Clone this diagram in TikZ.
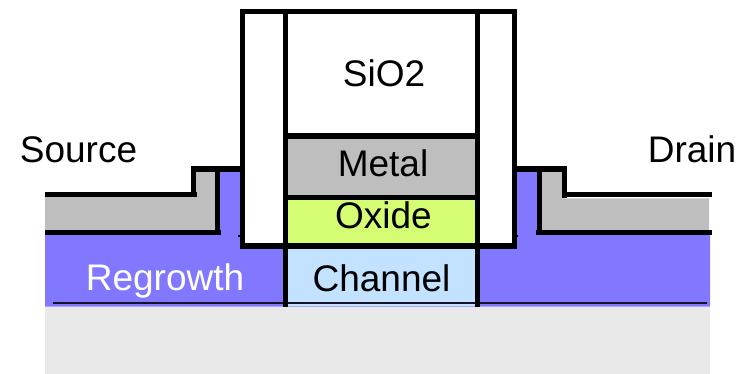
\documentclass[tikz,border=0pt]{standalone}
\usepackage{fontspec}
\setmainfont{Liberation Sans}
\definecolor{sub}{HTML}{E9E9E9}
\definecolor{regrow}{HTML}{8278FF}
\definecolor{metalc}{HTML}{BEBEBE}
\definecolor{oxidec}{HTML}{D4FD74}
\definecolor{chanc}{HTML}{C2E2FF}
\tikzset{
  wall/.style={line width=5.3pt,line cap=butt,line join=miter,draw=black},
  thin wall/.style={line width=2.4pt,draw=black!85!regrow},
  label text/.style={anchor=base,inner sep=0pt,font=\fontsize{37}{37}\selectfont}
}
\begin{document}
\begin{tikzpicture}[x=1pt,y=-1pt]
\useasboundingbox (0,0) rectangle (746,374);
% substrate and regrowth
\fill[sub] (45,306.7) rectangle (710,374);
\fill[regrow] (45,232) -- (217,232) -- (217,169) -- (242,169) -- (242,246) -- (514,246) -- (514,169) -- (540,169) -- (540,232) -- (710,232) -- (710,306.7) -- (45,306.7) -- cycle;
% source and drain metal
\fill[metalc] (45,197) -- (194,197) -- (194,171) -- (216,171) -- (216,230) -- (45,230) -- cycle;
\fill[metalc] (541,171) -- (563,171) -- (563,198.3) -- (709,198.3) -- (709,230) -- (541,230) -- cycle;
% gate stack fills
\fill[white] (242,12) rectangle (514,246);
\fill[metalc] (286,137) rectangle (477,197);
\fill[oxidec] (286,197) rectangle (477,246);
\fill[chanc] (286,246) rectangle (477,306);
% thin lines at the foot of the regrowth
\draw[thin wall] (53.3,303) -- (285,303);
\draw[thin wall] (478,303) -- (706.7,303);
\draw[thin wall] (286,303) -- (477,303);
% source contact
\draw[wall] (45,194.6) -- (197,194.6);
\draw[wall] (193.5,197) -- (193.5,169) -- (242,169);
\draw[wall] (217.3,169) -- (217.3,232);
\draw[wall] (45,232.2) -- (221.3,232.2);
% drain contact
\draw[wall] (712.3,194.6) -- (561.7,194.6);
\draw[wall] (564.2,197.5) -- (564.2,169) -- (514,169);
\draw[wall] (539.8,169) -- (539.8,232);
\draw[wall] (712.3,232.2) -- (536,232.2);
% small ticks beside the spacers
\draw[line width=2pt] (237.7,236) -- (241,236);
\draw[line width=2pt] (515,236) -- (518,236);
% gate stack outline
\draw[wall] (242.3,246) -- (242.3,11.7) -- (514.4,11.7) -- (514.4,246) -- cycle;
\draw[wall] (285.6,11.7) -- (285.6,307);
\draw[wall] (477.5,11.7) -- (477.5,307);
\draw[wall] (285.6,136) -- (477.5,136);
\draw[wall] (285.6,197.5) -- (477.5,197.5);
% labels
\node[label text] (source) at (78.5,162.5) {Source};
\node[label text] (drain) at (692,162.5) {Drain};
\node[label text] (sio) at (384,86.5) {SiO2};
\node[label text] (metal) at (383,177) {Metal};
\node[label text] (oxide) at (383.5,228) {Oxide};
\node[label text] (channel) at (381.5,291) {Channel};
\node[label text,text=white] (regrowth) at (165,290.7) {Regrowth};
\end{tikzpicture}
\end{document}
